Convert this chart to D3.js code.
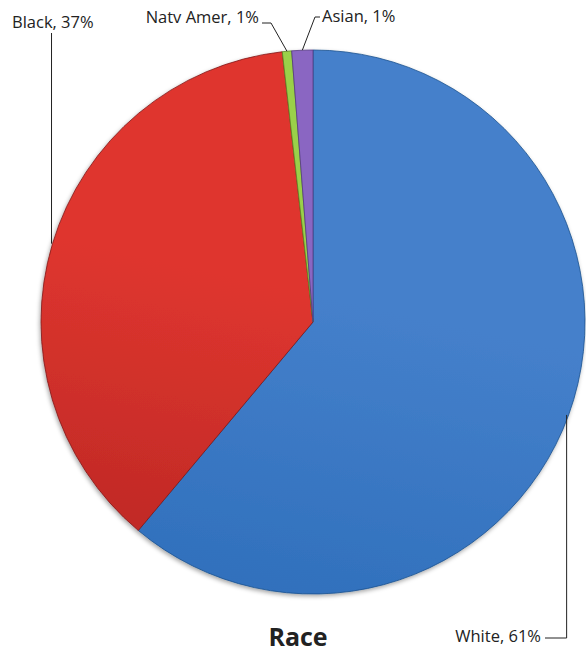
<!DOCTYPE html>
<html>
<head>
<meta charset="utf-8">
<script src="https://cdn.jsdelivr.net/npm/d3@7"></script>
<style>
  html, body { margin: 0; padding: 0; background: #fff; }
  svg { display: block; }
  text { font-family: "Open Sans", "Noto Sans", sans-serif; fill: #222; }
</style>
</head>
<body>
<svg id="chart" width="586" height="655"></svg>
<script>
// Race breakdown (percent)
const categories = ["White", "Black", "Natv Amer", "Asian"];
const values = [61.1, 37.1, 0.55, 1.25];
const colorsTop = ["#4580cb", "#df362f", "#9ad04a", "#8a66c2"];
const colorsBottom = ["#1f63b0", "#a01c1c", "#72aa2c", "#6a48a0"];
const title = "Race";

const width = 586, height = 655;
const cx = 313, cy = 322, radius = 272;

const svg = d3.select("#chart");
const defs = svg.append("defs");

categories.forEach((c, i) => {
  const g = defs.append("linearGradient")
    .attr("id", "grad" + i)
    .attr("gradientUnits", "userSpaceOnUse")
    .attr("x1", cx + 40).attr("y1", cy - radius)
    .attr("x2", cx - 80).attr("y2", cy + radius);
  g.append("stop").attr("offset", "0%").attr("stop-color", colorsTop[i]);
  g.append("stop").attr("offset", "100%").attr("stop-color", colorsBottom[i]);
});

const shadow = defs.append("filter").attr("id", "shadow")
  .attr("x", "-10%").attr("y", "-10%").attr("width", "120%").attr("height", "120%");
shadow.append("feDropShadow").attr("dx", -1).attr("dy", 2).attr("stdDeviation", 2)
  .attr("flood-color", "#000").attr("flood-opacity", 0.35);

const pie = d3.pie().sort(null).value(d => d)
  .startAngle(0).endAngle(2 * Math.PI);
const arcs = pie(values);
const arc = d3.arc().innerRadius(0).outerRadius(radius);

const g = svg.append("g").attr("transform", `translate(${cx},${cy})`);
g.append("g").attr("filter", "url(#shadow)")
  .selectAll("path").data(arcs).join("path")
  .attr("d", arc)
  .attr("fill", (d, i) => `url(#grad${i})`)
  .attr("stroke", (d, i) => d3.color(colorsBottom[i]).darker(0.6))
  .attr("stroke-width", 0.8);

// Leader lines and data labels
function edgePoint(d) {
  const a = (d.startAngle + d.endAngle) / 2;
  return [cx + radius * Math.sin(a), cy - radius * Math.cos(a)];
}
const labelText = i => `${categories[i]}, ${Math.round(values[i])}%`;

// label layout: text anchor point, text anchor, and leader bend points
const labelLayout = [
  { tx: 541, ty: 642, anchor: "end", path: p => [[p[0] - 2, p[1]], [p[0] - 2, 638], [545, 638]] },
  { tx: 12, ty: 28, anchor: "start", path: p => [[p[0] - 1, p[1]], [p[0] - 1, 33]] },
  { tx: 259, ty: 23, anchor: "end", path: p => [[p[0], p[1]], [271, 23], [262, 23]] },
  { tx: 322, ty: 22, anchor: "start", path: p => [[p[0], p[1]], [315, 17], [320, 17]] }
];

const labels = svg.append("g");
arcs.forEach((d, i) => {
  const p = edgePoint(d);
  const L = labelLayout[i];
  labels.append("path")
    .attr("d", d3.line()(L.path(p)))
    .attr("fill", "none").attr("stroke", "#222").attr("stroke-width", 1);
  labels.append("text")
    .attr("x", L.tx).attr("y", L.ty)
    .attr("text-anchor", L.anchor)
    .attr("font-size", 16.5)
    .attr("textLength", null)
    .text(labelText(i));
});

svg.append("text")
  .attr("x", 298).attr("y", 646)
  .attr("text-anchor", "middle")
  .attr("font-size", 25).attr("font-weight", "bold")
  .text(title);
</script>
</body>
</html>
